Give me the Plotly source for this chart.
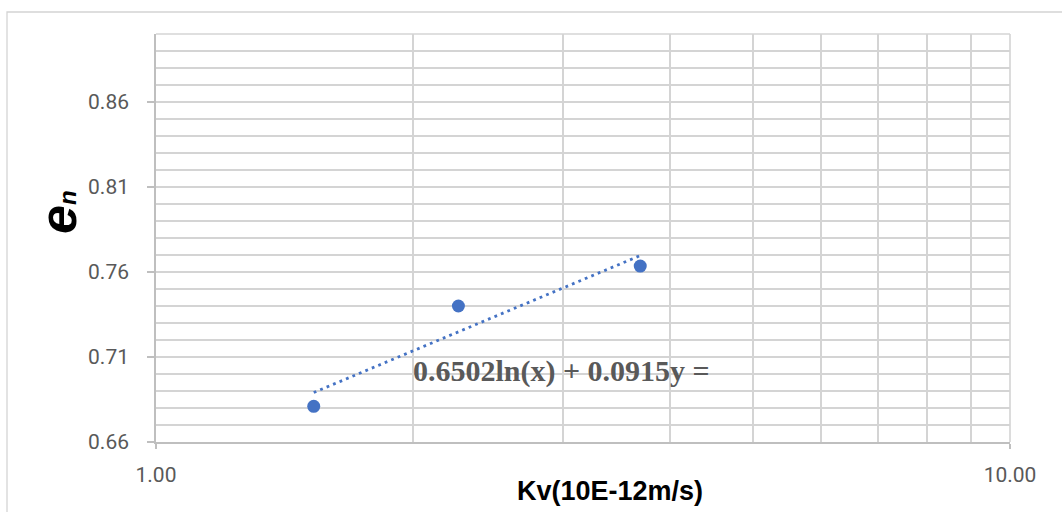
import numpy as np
import plotly.graph_objects as go

# Data
kv = [1.53, 2.26, 3.69]          # Kv (10E-12 m/s)
en = [0.681, 0.740, 0.7635]      # e_n
trend_slope = 0.0915             # from trendline label
trend_intercept = 0.6502
x_ticks = [1, 10]
x_tick_text = ["1.00", "10.00"]
x_minor = [2, 3, 4, 5, 6, 7, 8, 9]
y_ticks = [0.66, 0.71, 0.76, 0.81, 0.86]

W, H = 1062, 512
L, R, T, B = 156, 52, 34, 70
PW, PH = W - L - R, H - T - B

def px(x):
    return (x - L) / PW

def py(y):
    return (H - B - y) / PH

blue = "#4472C4"
grid = "#d4d4d4"
axc = "#bfbfbf"
txt = "#595959"
gw = 1.6

tx = [min(kv), max(kv)]
ty = [trend_intercept + trend_slope * np.log(v) for v in tx]

fig = go.Figure()
fig.add_trace(go.Scatter(x=tx, y=ty, mode="lines",
                         line=dict(color=blue, width=2.8, dash="2.8px,4.2px"),
                         hoverinfo="skip", showlegend=False))
fig.add_trace(go.Scatter(x=kv, y=en, mode="markers",
                         marker=dict(color=blue, size=13),
                         showlegend=False))

fig.update_layout(
    width=W, height=H,
    margin=dict(l=L, r=R, t=T, b=B),
    paper_bgcolor="white", plot_bgcolor="white",
    font=dict(family="Roboto, Liberation Sans, sans-serif", color=txt),
    xaxis=dict(type="log", range=[0, 1], tickmode="array",
               tickvals=x_ticks, ticktext=x_tick_text,
               tickfont=dict(size=21, color=txt),
               showgrid=True, gridcolor=grid, gridwidth=gw,
               showline=True, linecolor=axc, linewidth=1.6,
               ticks="outside", ticklen=5, tickcolor=axc, tickwidth=1.6,
               ticklabelstandoff=8,
               minor=dict(tickmode="array", tickvals=x_minor, showgrid=True,
                          gridcolor=grid, gridwidth=gw, ticks=""),
               zeroline=False, fixedrange=True),
    yaxis=dict(range=[0.66, 0.90], tickmode="array", tickvals=y_ticks,
               tickformat=".2f", tickfont=dict(size=21, color=txt),
               showgrid=True, gridcolor=grid, gridwidth=gw,
               showline=True, linecolor=axc, linewidth=1.6,
               ticks="outside", ticklen=7, tickcolor=axc, tickwidth=1.6,
               ticklabelstandoff=14,
               minor=dict(dtick=0.01, tick0=0.66, showgrid=True,
                          gridcolor=grid, gridwidth=gw, ticks=""),
               zeroline=False, fixedrange=True),
    shapes=[
        dict(type="rect", xref="paper", yref="paper",
             x0=px(7), x1=px(1075), y0=py(12), y1=py(525),
             line=dict(color=grid, width=1.3), layer="below"),
        dict(type="line", xref="paper", yref="paper",
             x0=0, x1=1, y0=1, y1=1, line=dict(color=grid, width=gw)),
        dict(type="line", xref="paper", yref="paper",
             x0=1, x1=1, y0=0, y1=1, line=dict(color=grid, width=gw)),
    ],
    annotations=[
        dict(text="0.6502ln(x) + 0.0915y =", xref="paper", yref="paper",
             x=px(561), y=py(371), showarrow=False,
             font=dict(family="Liberation Serif, Times New Roman, serif",
                       size=30, color=txt, weight="bold"),
             xanchor="center", yanchor="middle"),
        dict(text="Kv(10E-12m/s)", xref="paper", yref="paper",
             x=px(610), y=py(491), showarrow=False,
             font=dict(family="Liberation Sans, Arial, sans-serif",
                       size=27, color="black", weight="bold"),
             xanchor="center", yanchor="middle"),
        dict(text="e<span style='font-size:24px'>n</span>",
             xref="paper", yref="paper",
             x=px(58), y=py(212), showarrow=False, textangle=-90,
             font=dict(family="Liberation Sans, Arial, sans-serif",
                       size=52, color="black", weight="bold", style="italic"),
             xanchor="center", yanchor="middle"),
    ],
)

fig.write_html("out.html")
